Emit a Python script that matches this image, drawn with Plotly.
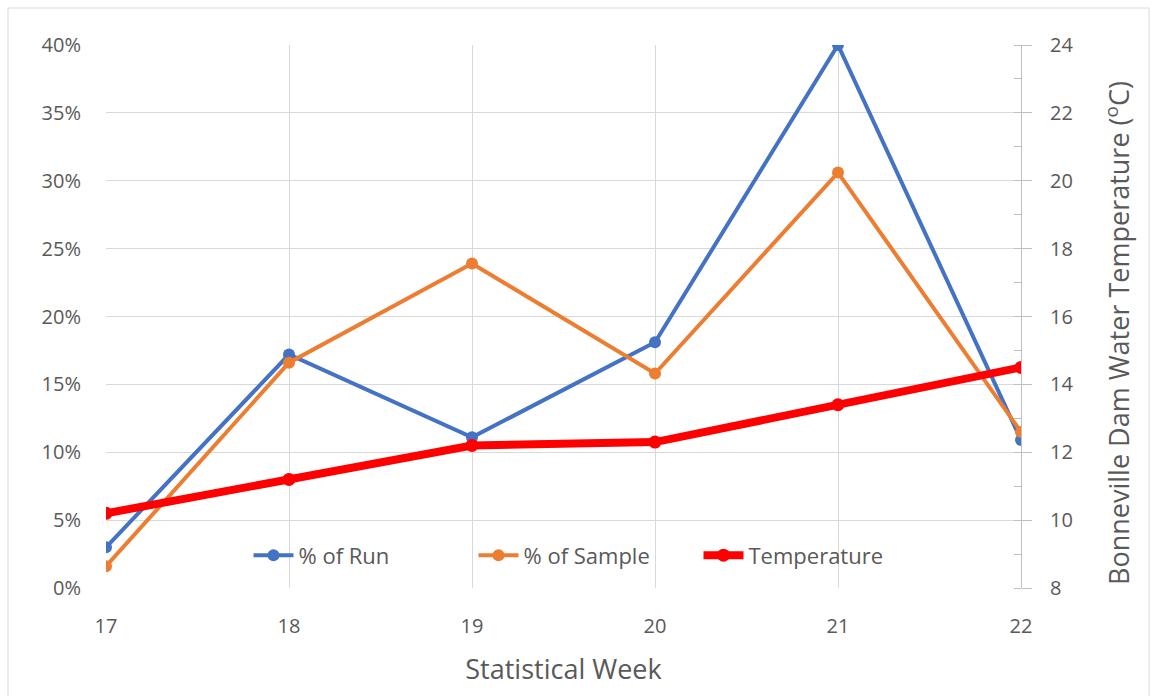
import plotly.graph_objects as go

weeks = [17, 18, 19, 20, 21, 22]
pct_run = [0.030, 0.172, 0.111, 0.181, 0.400, 0.109]
pct_sample = [0.016, 0.166, 0.239, 0.158, 0.306, 0.115]
temperature = [10.2, 11.2, 12.2, 12.3, 13.4, 14.5]

W, H = 1157, 696
L, R, T, B = 106, 136, 45, 108
font_family = "'Open Sans', sans-serif"
gray = "#595959"
grid = "#D9D9D9"

fig = go.Figure()
fig.add_trace(go.Scatter(x=weeks, y=pct_run, name="% of Run", mode="lines+markers",
                         line=dict(color="#4472C4", width=4),
                         marker=dict(size=12, color="#4472C4")))
fig.add_trace(go.Scatter(x=weeks, y=pct_sample, name="% of Sample", mode="lines+markers",
                         line=dict(color="#ED7D31", width=4),
                         marker=dict(size=12, color="#ED7D31")))
fig.add_trace(go.Scatter(x=weeks, y=temperature, name="Temperature", mode="lines+markers",
                         line=dict(color="#FF0000", width=8),
                         marker=dict(size=13, color="#FF0000"), yaxis="y2"))

pw = W - L - R
ph = H - T - B
fig.add_shape(type="rect", xref="paper", yref="paper",
              x0=(8 - L) / pw, x1=(1149 - L) / pw,
              y0=-(H + 5 - T - ph) / ph, y1=(H - 8 - B) / ph,
              line=dict(color="#D9D9D9", width=1), fillcolor="rgba(0,0,0,0)", layer="below")

fig.add_annotation(text="Bonneville Dam Water Temperature (<sup>o</sup>C)",
                   xref="paper", yref="paper", x=(1117 - L) / pw, y=(588 - 333) / ph,
                   xanchor="center", yanchor="middle", textangle=-90, showarrow=False,
                   font=dict(size=27, color=gray, family=font_family))

fig.update_layout(
    width=W, height=H,
    margin=dict(l=L, r=R, t=T, b=B),
    paper_bgcolor="white", plot_bgcolor="white",
    font=dict(family=font_family, size=20, color=gray),
    showlegend=True,
    legend=dict(orientation="h", x=(586 - L) / pw, xanchor="center", y=0.06, yanchor="middle",
                bgcolor="rgba(0,0,0,0)", font=dict(size=22, color=gray),
                itemwidth=40, tracegroupgap=0, entrywidth=170),
    xaxis=dict(range=[17, 22], dtick=1, tick0=17, showgrid=True, gridcolor=grid, gridwidth=1,
               zeroline=False, showline=False, ticks="", ticklabelstandoff=24,
               title=dict(text="Statistical Week", font=dict(size=27, color=gray), standoff=22)),
    yaxis=dict(range=[0, 0.40], dtick=0.05, tickformat=".0%", showgrid=True, gridcolor=grid,
               zeroline=False, showline=False, ticks="", ticklabelstandoff=24),
    yaxis2=dict(range=[8, 24], dtick=2, overlaying="y", side="right", anchor="x",
                showgrid=False, zeroline=False, showline=True, linecolor="#BFBFBF", linewidth=1,
                ticks="outside", ticklen=10, tickcolor="#BFBFBF", ticklabelstandoff=14,
                minor=dict(dtick=1, ticks="inside", ticklen=7, tickcolor="#BFBFBF", showgrid=False)),
)

fig.write_html("out.html")
